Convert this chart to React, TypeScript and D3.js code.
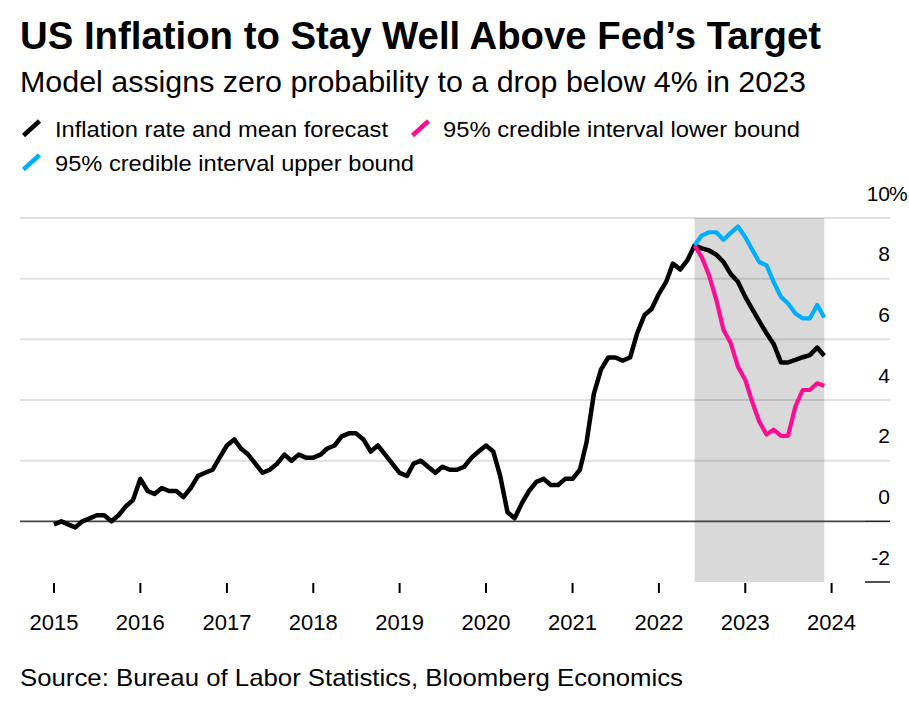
import React from "react";
import * as d3 from "d3";

// ---- Data ----
const histStart = "2015-01";
const histValues = [
  -0.1, 0.0, -0.1, -0.2, 0.0, 0.1, 0.2, 0.2, 0.0, 0.2, 0.5, 0.7,
  1.4, 1.0, 0.9, 1.1, 1.0, 1.0, 0.8, 1.1, 1.5, 1.6, 1.7, 2.1,
  2.5, 2.7, 2.4, 2.2, 1.9, 1.6, 1.7, 1.9, 2.2, 2.0, 2.2, 2.1,
  2.1, 2.2, 2.4, 2.5, 2.8, 2.9, 2.9, 2.7, 2.3, 2.5, 2.2, 1.9,
  1.6, 1.5, 1.9, 2.0, 1.8, 1.6, 1.8, 1.7, 1.7, 1.8, 2.1, 2.3,
  2.5, 2.3, 1.5, 0.3, 0.1, 0.6, 1.0, 1.3, 1.4, 1.2, 1.2, 1.4,
  1.4, 1.7, 2.6, 4.2, 5.0, 5.4, 5.4, 5.3, 5.4, 6.2, 6.8, 7.0,
  7.5, 7.9, 8.5, 8.3, 8.6, 9.1,
];
const forecastStart = "2022-06";
const meanForecast = [9.1, 9.0, 8.93, 8.79, 8.55, 8.15, 7.9, 7.4, 6.98, 6.6, 6.2, 5.85, 5.24, 5.24, 5.32, 5.41, 5.48, 5.73, 5.46];
const lowerBound = [9.1, 8.71, 8.11, 7.29, 6.31, 5.87, 5.1, 4.66, 3.9, 3.29, 2.86, 3.02, 2.82, 2.82, 3.79, 4.33, 4.33, 4.55, 4.47];
const upperBound = [9.1, 9.42, 9.53, 9.53, 9.28, 9.51, 9.72, 9.37, 8.93, 8.55, 8.44, 7.89, 7.4, 7.18, 6.85, 6.69, 6.69, 7.13, 6.72];
const shadeRange = ["2022-06", "2023-12"];
const xTickYears = [2015, 2016, 2017, 2018, 2019, 2020, 2021, 2022, 2023, 2024];
const yTicks = [-2, 0, 2, 4, 6, 8, 10];
const legendItems = [
  { label: "Inflation rate and mean forecast", color: "#000000" },
  { label: "95% credible interval lower bound", color: "#ff0c94" },
  { label: "95% credible interval upper bound", color: "#00aeff" },
];
const title = "US Inflation to Stay Well Above Fed\u2019s Target";
const subtitle = "Model assigns zero probability to a drop below 4% in 2023";
const source = "Source: Bureau of Labor Statistics, Bloomberg Economics";

const parseMonth = d3.timeParse("%Y-%m");
const toSeries = (start: string, vals: number[]) => {
  const s = parseMonth(start) as Date;
  return vals.map((v, i) => ({ date: d3.timeMonth.offset(s, i), value: v }));
};

const FONT = "'Liberation Sans', Arial, Helvetica, sans-serif";

export default function App() {
  const x = d3
    .scaleTime()
    .domain([new Date(2015, 0, 1), new Date(2024, 0, 1)])
    .range([54, 831.6]);
  const y = d3.scaleLinear().domain([-2, 10]).range([582, 218]);

  const hist = toSeries(histStart, histValues);
  const mean = toSeries(forecastStart, meanForecast);
  const lower = toSeries(forecastStart, lowerBound);
  const upper = toSeries(forecastStart, upperBound);

  const line = d3
    .line<{ date: Date; value: number }>()
    .x((d) => x(d.date))
    .y((d) => y(d.value));

  const blackSeries = hist.concat(mean.slice(1));
  const shadeX0 = x(parseMonth(shadeRange[0]) as Date);
  const shadeX1 = x(parseMonth(shadeRange[1]) as Date);

  const gridLeft = 20;
  const gridRight = 890;

  return (
    <svg
      width={909}
      height={708}
      style={{ position: "absolute", left: 0, top: 0, background: "#fff" }}
      fontFamily={FONT}
    >
      <rect x={0} y={0} width={909} height={708} fill="#fff" />
      {/* Title */}
      <text x={20} y={49} fontSize={38.5} fontWeight="bold" fill="#000" textLength={801} lengthAdjust="spacingAndGlyphs">
        {title}
      </text>
      <text x={20} y={92} fontSize={29} fill="#000" textLength={786} lengthAdjust="spacingAndGlyphs">
        {subtitle}
      </text>

      {/* Legend */}
      {[
        { item: legendItems[0], ix: 22, tx: 55, by: 137, w: 333 },
        { item: legendItems[1], ix: 411, tx: 443, by: 137, w: 357 },
        { item: legendItems[2], ix: 22, tx: 55, by: 171, w: 359 },
      ].map((l, i) => (
        <g key={i}>
          <line
            x1={l.ix + 1.5}
            y1={l.by - 1.5}
            x2={l.ix + 17.5}
            y2={l.by - 16}
            stroke={l.item.color}
            strokeWidth={4.5}
          />
          <text x={l.tx} y={l.by} fontSize={22} fill="#000" textLength={l.w} lengthAdjust="spacingAndGlyphs">
            {l.item.label}
          </text>
        </g>
      ))}

      {/* Forecast shading */}
      <rect x={shadeX0} y={y(10)} width={shadeX1 - shadeX0} height={y(-2) - y(10)} fill="#d9d9d9" />

      {/* Gridlines */}
      {yTicks
        .filter((t) => t > 0)
        .map((t) => (
          <line key={t} x1={gridLeft} x2={gridRight} y1={y(t)} y2={y(t)} stroke="#000" strokeOpacity={0.12} strokeWidth={2} />
        ))}
      <line x1={gridLeft} x2={865} y1={y(0)} y2={y(0)} stroke="#444" strokeWidth={1.6} />
      <line x1={865} x2={gridRight} y1={y(0)} y2={y(0)} stroke="#222" strokeWidth={1.6} />
      <line x1={865} x2={gridRight} y1={y(-2)} y2={y(-2)} stroke="#222" strokeWidth={1.6} />

      {/* Y labels */}
      {yTicks.map((t) => (
        <g key={t}>
          <text x={890} y={y(t) - 17.5} fontSize={21} textAnchor="end" fill="#000">
            {t}
          </text>
          {t === 10 && (
            <text x={889} y={y(t) - 17.5} fontSize={21} fill="#000">
              %
            </text>
          )}
        </g>
      ))}

      {/* X ticks */}
      {xTickYears.map((yr) => {
        const xx = x(new Date(yr, 0, 1));
        return (
          <g key={yr}>
            <line x1={xx} x2={xx} y1={583} y2={593} stroke="#000" strokeWidth={2} />
            <text x={xx} y={630} fontSize={22} textAnchor="middle" fill="#000">
              {yr}
            </text>
          </g>
        );
      })}

      {/* Lines */}
      <path d={line(blackSeries) || ""} fill="none" stroke="#000" strokeWidth={4.5} strokeLinejoin="round" />
      <path d={line(lower) || ""} fill="none" stroke={legendItems[1].color} strokeWidth={4.2} strokeLinejoin="round" />
      <path d={line(upper) || ""} fill="none" stroke={legendItems[2].color} strokeWidth={4.2} strokeLinejoin="round" />

      {/* Source */}
      <text x={20} y={686} fontSize={24} fill="#000" textLength={663} lengthAdjust="spacingAndGlyphs">
        {source}
      </text>
    </svg>
  );
}
